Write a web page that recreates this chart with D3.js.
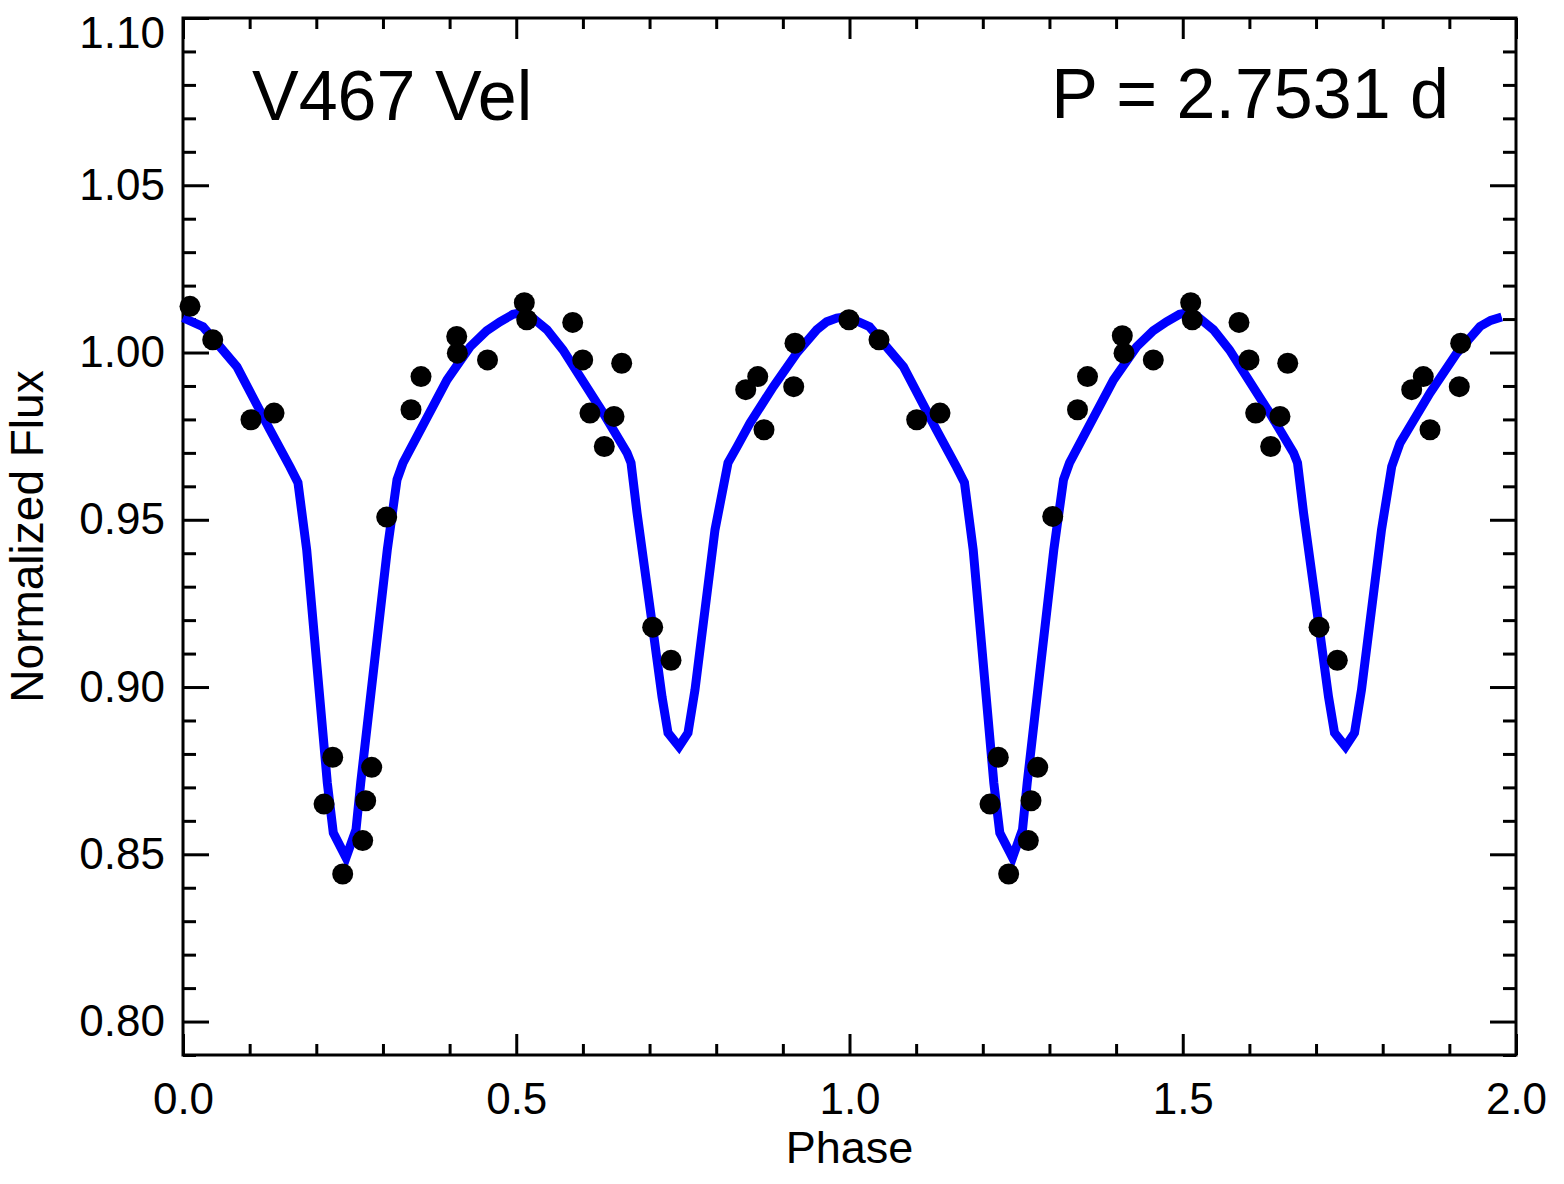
<!DOCTYPE html>
<html>
<head>
<meta charset="utf-8">
<script src="https://cdn.jsdelivr.net/npm/d3@7"></script>
<style>
  html, body { margin: 0; padding: 0; background: #fff; }
  svg { display: block; }
</style>
</head>
<body>
<div id="chart"></div>
<script>
const obsPhase = [
  0.0105, 0.0446, 0.1020, 0.1366, 0.2116, 0.2246, 0.2396, 0.2696, 0.2741, 0.2831,
  0.3056, 0.3421, 0.3571, 0.4107, 0.4116, 0.4569, 0.5121, 0.5157, 0.5847, 0.5997,
  0.6106, 0.6321, 0.6467, 0.6582, 0.7047, 0.7322, 0.8443, 0.8623, 0.8717, 0.9163,
  0.9182, 0.9992, 1.0443, 1.1008, 1.1358,
  1.2108, 1.2232, 1.2388, 1.2683, 1.2723, 1.2824, 1.3049, 1.3421, 1.3571, 1.4093,
  1.4119, 1.4558, 1.5119, 1.5143, 1.5844, 1.5994, 1.6094, 1.6319, 1.6459, 1.6575,
  1.7045, 1.7319, 1.8435, 1.8609, 1.8710, 1.9149, 1.9170
];
const obsFlux = [
  1.0138, 1.0038, 0.9799, 0.9819, 0.8650, 0.8790, 0.8441, 0.8541, 0.8660, 0.8760,
  0.9508, 0.9829, 0.9928, 1.0048, 0.9998, 0.9978, 1.0149, 1.0098, 1.0090, 0.9978,
  0.9819, 0.9719, 0.9809, 0.9968, 0.9179, 0.9080, 0.9889, 0.9928, 0.9769, 0.9898,
  1.0028, 1.0098, 1.0038, 0.9799, 0.9819,
  0.8650, 0.8790, 0.8441, 0.8541, 0.8660, 0.8760, 0.9510, 0.9829, 0.9928, 1.0050,
  0.9998, 0.9978, 1.0149, 1.0098, 1.0090, 0.9978, 0.9819, 0.9719, 0.9809, 0.9968,
  0.9179, 0.9080, 0.9889, 0.9928, 0.9769, 0.9898, 1.0028
];

// model light curve, first cycle
const modelPhase1 = [
  0.000, 0.030, 0.081, 0.1305, 0.1605, 0.1725, 0.1856, 0.2165, 0.2255, 0.2446,
  0.2596, 0.2666, 0.3065, 0.3211, 0.3301, 0.3961, 0.4306, 0.4556, 0.4756, 0.4951,
  0.5080, 0.5201, 0.5461, 0.5701, 0.6302, 0.6662, 0.6722, 0.6812, 0.7052, 0.7187,
  0.7277, 0.7442, 0.7577, 0.7682, 0.7982, 0.8177, 0.8312, 0.8507, 0.8857, 0.9208,
  0.9508, 0.9658, 0.9808, 0.9930
];
const modelFlux1 = [
  1.0104, 1.0077, 0.9957, 0.9769, 0.9658, 0.9611, 0.9410, 0.8714, 0.8564, 0.8490,
  0.8574, 0.8713, 0.9410, 0.9620, 0.9670, 0.9918, 1.0017, 1.0065, 1.0092, 1.0114,
  1.0119, 1.0111, 1.0068, 1.0008, 0.9820, 0.9700, 0.9670, 0.9521, 0.9171, 0.8971,
  0.8863, 0.8822, 0.8863, 0.8992, 0.9470, 0.9670, 0.9718, 0.9789, 0.9898, 0.9998,
  1.0068, 1.0092, 1.0103, 1.0106
];

// model light curve, second cycle
const modelPhase2 = [
  1.000, 1.030, 1.081, 1.1305, 1.1605, 1.1725, 1.1856, 1.2165, 1.2255, 1.2446,
  1.2596, 1.2666, 1.3065, 1.3211, 1.3301, 1.3961, 1.4306, 1.4556, 1.4756, 1.4951,
  1.5080, 1.5201, 1.5461, 1.5701, 1.6302, 1.6662, 1.6722, 1.6812, 1.7052, 1.7187,
  1.7277, 1.7442, 1.7577, 1.7682, 1.7982, 1.8135, 1.8259, 1.8710, 1.9110, 1.9460,
  1.9620, 1.9786
];
const modelFlux2 = [
  1.0104, 1.0077, 0.9957, 0.9769, 0.9658, 0.9611, 0.9410, 0.8714, 0.8564, 0.8490,
  0.8574, 0.8713, 0.9410, 0.9620, 0.9670, 0.9918, 1.0017, 1.0065, 1.0092, 1.0114,
  1.0119, 1.0111, 1.0068, 1.0008, 0.9820, 0.9700, 0.9670, 0.9521, 0.9171, 0.8971,
  0.8863, 0.8822, 0.8863, 0.8992, 0.9470, 0.9659, 0.9729, 0.9879, 0.9998, 1.0078,
  1.0096, 1.0106
];

const xMajor = [0.0, 0.5, 1.0, 1.5, 2.0];
const xMinor = [0.1, 0.2, 0.3, 0.4, 0.6, 0.7, 0.8, 0.9, 1.1, 1.2, 1.3, 1.4, 1.6, 1.7, 1.8, 1.9];
const yMajor = [0.80, 0.85, 0.90, 0.95, 1.00, 1.05, 1.10];
const yMinor = [0.79, 0.81, 0.82, 0.83, 0.84, 0.86, 0.87, 0.88, 0.89, 0.91, 0.92, 0.93, 0.94,
  0.96, 0.97, 0.98, 0.99, 1.01, 1.02, 1.03, 1.04, 1.06, 1.07, 1.08, 1.09];

const starName = 'V467 Vel';
const periodLabel = 'P = 2.7531 d';

const W = 1564, H = 1184;
const margin = { left: 183, right: 1516, top: 18, bottom: 1055 };
const font = '"Liberation Sans", Arial, Helvetica, sans-serif';

const svg = d3.select('#chart').append('svg')
  .attr('width', W)
  .attr('height', H)
  .style('font-family', font);

svg.append('rect').attr('width', W).attr('height', H).attr('fill', '#fff');

const x = d3.scaleLinear().domain([0, 2]).range([margin.left, margin.right]);
const y = d3.scaleLinear().domain([0.79, 1.10]).range([margin.bottom, margin.top]);

// axes: labelled bottom/left, plain ticks on top/right
function styleAxis(sel) {
  sel.select('.domain').remove();
  sel.selectAll('line').attr('stroke', '#000').attr('stroke-width', 3);
  sel.selectAll('text').attr('fill', '#000').style('font-size', '44px').style('font-family', font);
}

svg.append('g').attr('transform', `translate(0,${margin.bottom})`)
  .call(d3.axisBottom(x).tickValues(xMajor).tickFormat(d3.format('.1f')).tickSize(-21).tickSizeOuter(0).tickPadding(28))
  .call(styleAxis);
svg.append('g').attr('transform', `translate(0,${margin.bottom})`)
  .call(d3.axisBottom(x).tickValues(xMinor).tickFormat('').tickSize(-11).tickSizeOuter(0))
  .call(styleAxis);
svg.append('g').attr('transform', `translate(0,${margin.top})`)
  .call(d3.axisTop(x).tickValues(xMajor).tickFormat('').tickSize(-21).tickSizeOuter(0))
  .call(styleAxis);
svg.append('g').attr('transform', `translate(0,${margin.top})`)
  .call(d3.axisTop(x).tickValues(xMinor).tickFormat('').tickSize(-11).tickSizeOuter(0))
  .call(styleAxis);

const yAxisG = svg.append('g').attr('transform', `translate(${margin.left},0)`)
  .call(d3.axisLeft(y).tickValues(yMajor).tickFormat(d3.format('.2f')).tickSize(-26).tickSizeOuter(0).tickPadding(18))
  .call(styleAxis);
// top label sits just inside the window, as in the original
yAxisG.selectAll('.tick text').filter(d => d === 1.10).attr('dy', '0.66em');

svg.append('g').attr('transform', `translate(${margin.left},0)`)
  .call(d3.axisLeft(y).tickValues(yMinor).tickFormat('').tickSize(-13).tickSizeOuter(0))
  .call(styleAxis);
svg.append('g').attr('transform', `translate(${margin.right},0)`)
  .call(d3.axisRight(y).tickValues(yMajor).tickFormat('').tickSize(-26).tickSizeOuter(0))
  .call(styleAxis);
svg.append('g').attr('transform', `translate(${margin.right},0)`)
  .call(d3.axisRight(y).tickValues(yMinor).tickFormat('').tickSize(-13).tickSizeOuter(0))
  .call(styleAxis);

// frame
svg.append('rect')
  .attr('x', margin.left).attr('y', margin.top)
  .attr('width', margin.right - margin.left).attr('height', margin.bottom - margin.top)
  .attr('fill', 'none').attr('stroke', '#000').attr('stroke-width', 3);

// model curve
const line = d3.line().x(d => x(d[0])).y(d => y(d[1]));
const cycles = [
  d3.zip(modelPhase1, modelFlux1),
  d3.zip(modelPhase2, modelFlux2)
];
svg.append('g').selectAll('path')
  .data(cycles)
  .join('path')
  .attr('d', line)
  .attr('fill', 'none')
  .attr('stroke', '#0000ff')
  .attr('stroke-width', 9)
  .attr('stroke-linejoin', 'miter')
  .attr('stroke-miterlimit', 10);

// observations
svg.append('g').selectAll('circle')
  .data(d3.zip(obsPhase, obsFlux))
  .join('circle')
  .attr('cx', d => x(d[0]))
  .attr('cy', d => y(d[1]))
  .attr('r', 10.5)
  .attr('fill', '#000');

// labels
svg.append('text')
  .attr('x', 252).attr('y', 120)
  .style('font-size', '70px')
  .text(starName);

svg.append('text')
  .attr('x', 1449).attr('y', 118)
  .attr('text-anchor', 'end')
  .style('font-size', '70px')
  .text(periodLabel);

svg.append('text')
  .attr('x', (margin.left + margin.right) / 2).attr('y', 1163)
  .attr('text-anchor', 'middle')
  .style('font-size', '45px')
  .text('Phase');

svg.append('text')
  .attr('transform', `translate(43,${(margin.top + margin.bottom) / 2}) rotate(-90)`)
  .attr('text-anchor', 'middle')
  .style('font-size', '46px')
  .text('Normalized Flux');
</script>
</body>
</html>
